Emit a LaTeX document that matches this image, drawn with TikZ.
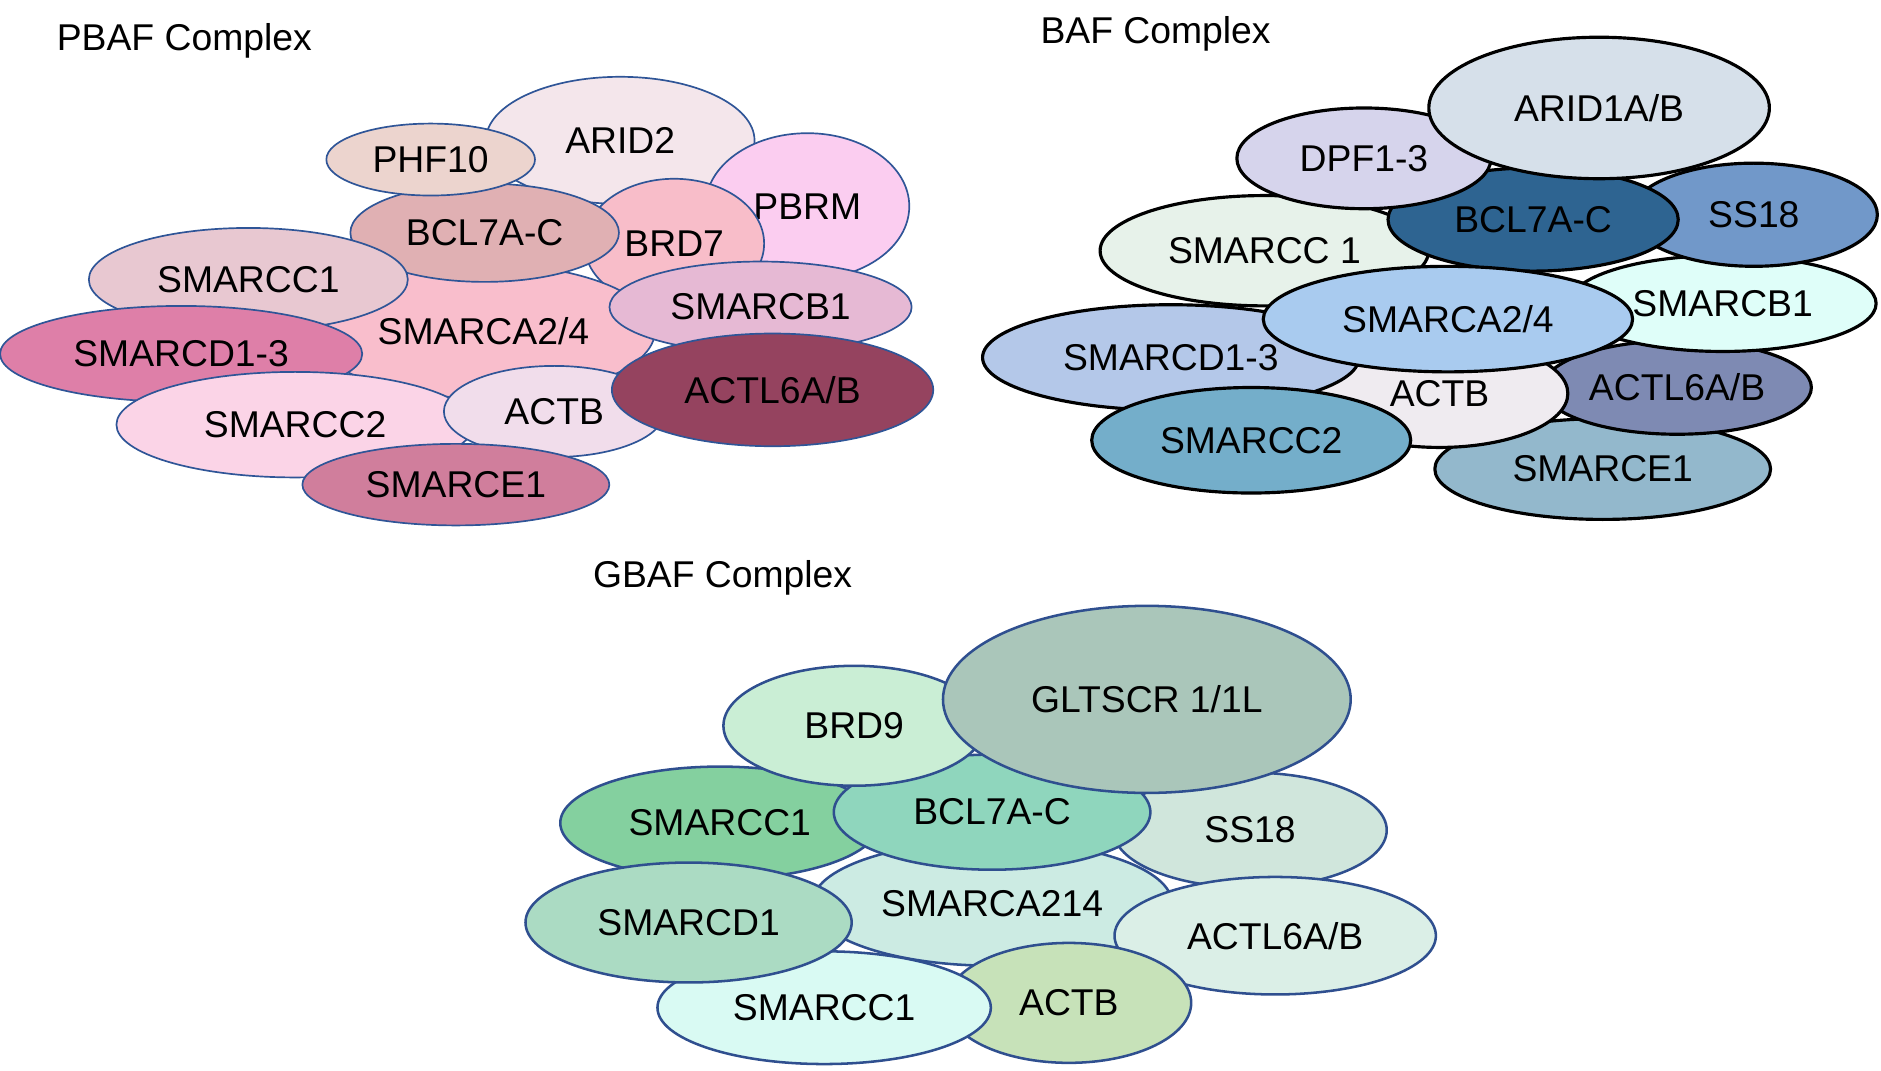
\documentclass[tikz,border=0pt]{standalone}
\usepackage{fontspec}
\setmainfont{Liberation Sans}
\usetikzlibrary{shapes.geometric}
% PBAF colours
\definecolor{pArid}{HTML}{F4E6EB}\definecolor{pPhf}{HTML}{ECD4CE}
\definecolor{pPbrm}{HTML}{FBCDF0}\definecolor{pBrd}{HTML}{F8BDC9}
\definecolor{pBcl}{HTML}{E0B0B3}\definecolor{pCc1}{HTML}{E8C8D1}
\definecolor{pA24}{HTML}{F9BECC}\definecolor{pB1}{HTML}{E6B9D4}
\definecolor{pD13}{HTML}{DE7FA8}\definecolor{pActl}{HTML}{95435F}
\definecolor{pActb}{HTML}{F1DDEB}\definecolor{pCc2}{HTML}{FBD4E7}
\definecolor{pE1}{HTML}{D07E9C}\definecolor{pLine}{HTML}{2F5597}
% BAF colours
\definecolor{bArid}{HTML}{D6E0EA}\definecolor{bDpf}{HTML}{D6D4EC}
\definecolor{bBcl}{HTML}{2E6491}\definecolor{bSs}{HTML}{7198C9}
\definecolor{bCc1}{HTML}{E7F2EA}\definecolor{bB1}{HTML}{DFFEF9}
\definecolor{bA24}{HTML}{A9CBEF}\definecolor{bD13}{HTML}{B4C8E9}
\definecolor{bActb}{HTML}{EFEBF0}\definecolor{bActl}{HTML}{7E8AB3}
\definecolor{bCc2}{HTML}{74AECA}\definecolor{bE1}{HTML}{93B8CC}
% GBAF colours
\definecolor{gGlt}{HTML}{AAC6BA}\definecolor{gBrd}{HTML}{CAEED5}
\definecolor{gCc1}{HTML}{84D09F}\definecolor{gBcl}{HTML}{8FD6BD}
\definecolor{gSs}{HTML}{D0E6DC}\definecolor{gA214}{HTML}{CCEBE3}
\definecolor{gD1}{HTML}{ABDBC3}\definecolor{gActl}{HTML}{DBEFE7}
\definecolor{gCc1b}{HTML}{D9FAF3}\definecolor{gActb}{HTML}{C7E2B9}
\definecolor{gLine}{HTML}{2F4F8F}
\tikzset{
  sub/.style 2 args={ellipse,inner sep=0pt,minimum width=#1*0.04cm,
             minimum height=#2*0.04cm,font=\fontsize{17.7}{20}\selectfont},
  pbaf/.style={draw=pLine,line width=0.8pt},
  baf/.style={draw=black,line width=1.5pt},
  gbaf/.style={draw=gLine,line width=1.2pt},
  ttl/.style={anchor=west,inner sep=0pt,font=\fontsize{17.7}{20}\selectfont},
  every picture/.style={line cap=round,line join=round}}

\begin{document}
\begin{tikzpicture}[x=0.02cm,y=-0.02cm]
  \useasboundingbox (0,0) rectangle (1568,892);
  % PBAF
  \node[ttl] (tp) at (47,34){PBAF Complex};
  \node[sub={112}{53},pbaf,fill=pArid] (parid) at (517,117){ARID2};
  \node[sub={85}{61},pbaf,fill=pPbrm] (pbrm) at (673,172){PBRM};
  \node[sub={75}{54},pbaf,fill=pBrd] (pbrd) at (562,203){BRD7};
  \node[sub={143}{56},pbaf,fill=pA24] (pa24) at (403,276){SMARCA2/4};
  \node[sub={112}{41},pbaf,fill=pBcl] (pbcl) at (404,194){BCL7A-C};
  \node[sub={87}{30},pbaf,fill=pPhf] (pphf) at (359,133){PHF10};
  \node[sub={133}{43},pbaf,fill=pCc1] (pcc1) at (207,233){SMARCC1};
  \node[sub={126}{38},pbaf,fill=pB1] (pb1) at (634,256){SMARCB1};
  \node[sub={151}{40},pbaf,fill=pD13] (pd13) at (151,295){SMARCD1-3};
  \node[sub={149}{44},pbaf,fill=pCc2] (pcc2) at (246,354){SMARCC2};
  \node[sub={92}{38},pbaf,fill=pActb] (pactb) at (462,343){ACTB};
  \node[sub={134}{47},pbaf,fill=pActl] (pactl) at (644,325){ACTL6A/B};
  \node[sub={128}{34},pbaf,fill=pE1] (pe1) at (380,404){SMARCE1};
  % BAF
  \node[ttl] (tb) at (867,28){BAF Complex};
  \node[sub={140}{42},baf,fill=bE1] (be1) at (1336,391){SMARCE1};
  \node[sub={112}{39},baf,fill=bActl] (bactl) at (1398,323){ACTL6A/B};
  \node[sub={107}{45},baf,fill=bActb] (bactb) at (1200,328){ACTB};
  \node[sub={157}{44},baf,fill=bD13] (bd13) at (976,298){SMARCD1-3};
  \node[sub={128}{40},baf,fill=bB1] (bb1) at (1436,253){SMARCB1};
  \node[sub={103}{43},baf,fill=bSs] (bss) at (1462,179){SS18};
  \node[sub={137}{46},baf,fill=bCc1] (bcc1) at (1054,209){SMARCC 1};
  \node[sub={121}{43},baf,fill=bBcl] (bbcl) at (1278,183){BCL7A-C};
  \node[sub={106}{42},baf,fill=bDpf] (bdpf) at (1137,132){DPF1-3};
  \node[sub={142}{59},baf,fill=bArid] (barid) at (1333,90){ARID1A/B};
  \node[sub={154}{44},baf,fill=bA24] (ba24) at (1207,266){SMARCA2/4};
  \node[sub={133}{44},baf,fill=bCc2] (bcc2) at (1043,367){SMARCC2};
  % GBAF
  \node[ttl] (tg) at (494,482){GBAF Complex};
  \node[sub={150}{52},gbaf,fill=gA214] (ga214) at (827,753){SMARCA214};
  \node[sub={114}{48},gbaf,fill=gSs] (gss) at (1042,692){SS18};
  \node[sub={134}{49},gbaf,fill=gActl] (gactl) at (1063,780){ACTL6A/B};
  \node[sub={102}{50},gbaf,fill=gActb] (gactb) at (891,836){ACTB};
  \node[sub={139}{47},gbaf,fill=gCc1b] (gcc1b) at (687,840){SMARCC1};
  \node[sub={133}{47},gbaf,fill=gCc1] (gcc1) at (600,686){SMARCC1};
  \node[sub={136}{50},gbaf,fill=gD1] (gd1) at (574,769){SMARCD1};
  \node[sub={132}{48},gbaf,fill=gBcl] (gbcl) at (827,677){BCL7A-C};
  \node[sub={109}{50},gbaf,fill=gBrd] (gbrd) at (712,605){BRD9};
  \node[sub={170}{78},gbaf,fill=gGlt] (gglt) at (956,583){GLTSCR 1/1L};
\end{tikzpicture}
\end{document}
